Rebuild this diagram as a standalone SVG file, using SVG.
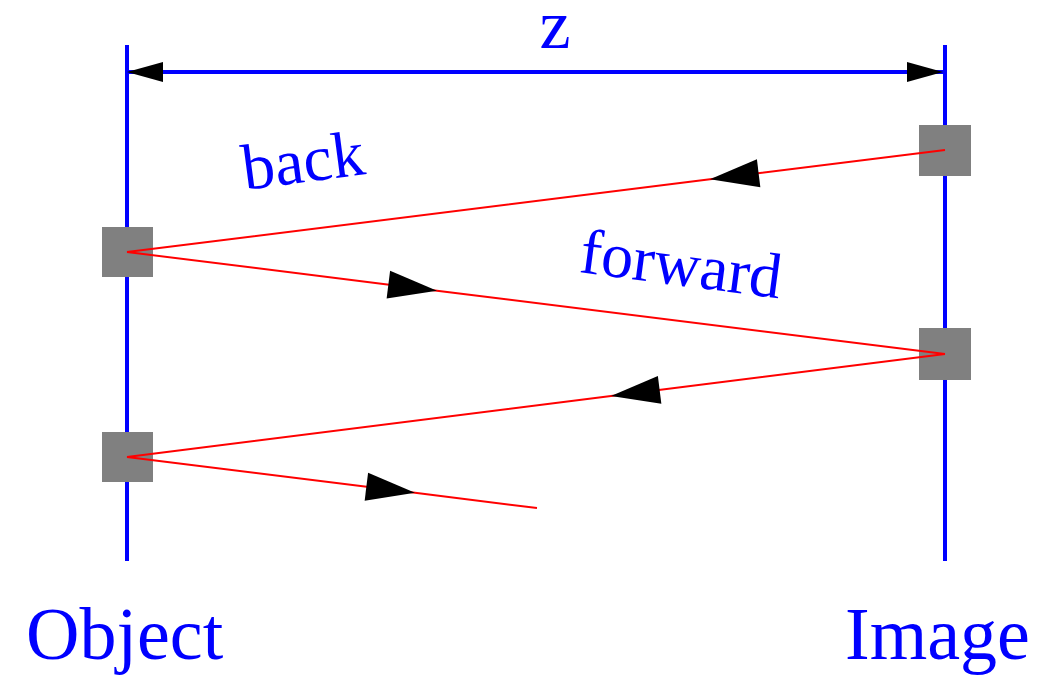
<svg xmlns="http://www.w3.org/2000/svg" width="1052" height="680" viewBox="0 0 1052 680">
  <style>
    .axis { stroke: #0000ff; stroke-width: 4; fill: none; }
    .ray { stroke: #ff0000; stroke-width: 2; fill: none; marker-mid: url(#ah); }
    .sq { fill: #808080; }
    .lbl { fill: #0000ff; font-family: "Liberation Serif", "Times New Roman", serif; }
    .head { fill: #000000; }
  </style>
  <defs>
    <marker id="ah" markerUnits="userSpaceOnUse" viewBox="-50 -15 50 30" markerWidth="50" markerHeight="30" refX="0" refY="0" orient="auto">
      <path d="M0,0 L-49,-14 L-49,14 Z" class="head"/>
    </marker>
  </defs>

  <g id="object-plane">
    <line class="axis" x1="127" y1="45" x2="127" y2="561"/>
    <text class="lbl" x="26" y="659" font-size="74">Object</text>
  </g>
  <g id="image-plane">
    <line class="axis" x1="945" y1="45" x2="945" y2="561"/>
    <text class="lbl" x="845" y="659" font-size="74">Image</text>
  </g>

  <g id="dimension">
    <line class="axis" x1="129" y1="72" x2="943" y2="72"/>
    <path d="M127,72 L163,62 L163,82 Z" class="head"/>
    <path d="M943,72 L907,62 L907,82 Z" class="head"/>
    <text class="lbl" x="555" y="48" font-size="70" text-anchor="middle">z</text>
  </g>

  <g id="node-obj1"><rect class="sq" x="102" y="227" width="51" height="50"/></g>
  <g id="node-obj2"><rect class="sq" x="102" y="432" width="51" height="50"/></g>
  <g id="node-img1"><rect class="sq" x="919" y="125" width="52" height="51"/></g>
  <g id="node-img2"><rect class="sq" x="919" y="328" width="52" height="52"/></g>

  <g id="connectors">
    <path class="ray" d="M945,150 L710,179.3 L127,252"/>
    <path class="ray" d="M127,252 L437,290.7 L945,354"/>
    <path class="ray" d="M945,354 L611,396 L127,457"/>
    <path class="ray" d="M127,457 L415,492.8 L537,508"/>
  </g>

  <g id="ray-labels">
    <text class="lbl" font-size="65" transform="translate(245,190) rotate(-7.5)">back</text>
    <text class="lbl" font-size="64" transform="translate(578,272) rotate(7.5)">forward</text>
  </g>
</svg>
